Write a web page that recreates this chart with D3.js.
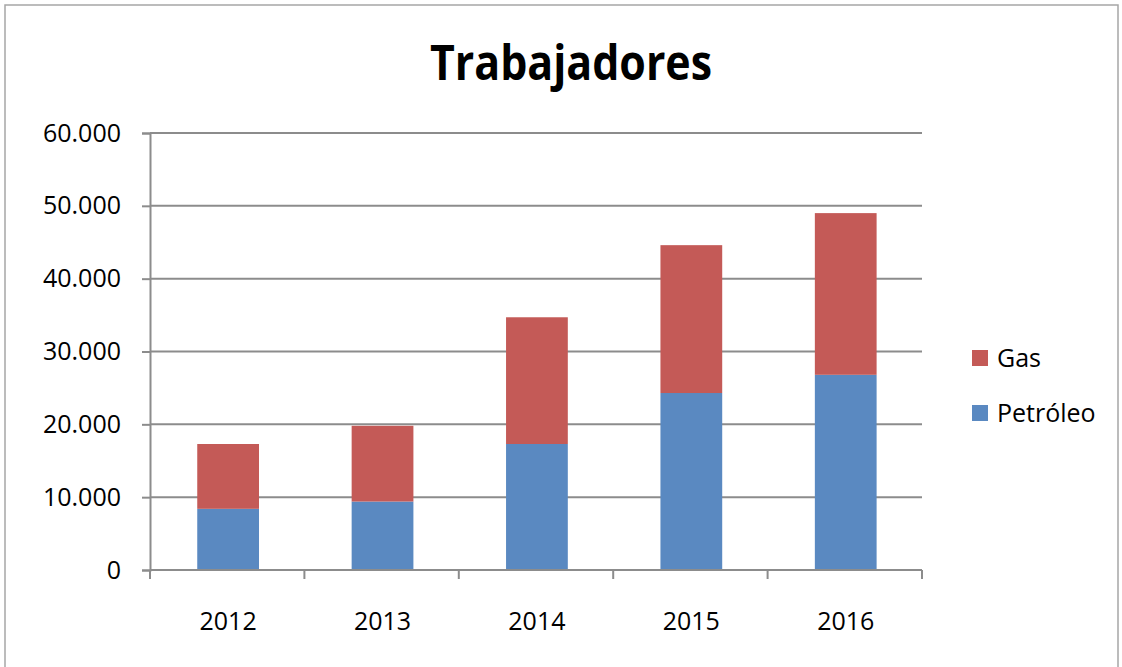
<!DOCTYPE html>
<html>
<head>
<meta charset="utf-8">
<script src="https://cdn.jsdelivr.net/npm/d3@7"></script>
<style>
  body { margin: 0; background: #fff; }
  text { font-family: "Open Sans", sans-serif; fill: #000; }
</style>
</head>
<body>
<div id="chart"></div>
<script>
// data
const years = ["2012", "2013", "2014", "2015", "2016"];
const petroleo = [8400, 9400, 17300, 24300, 26800];
const gas = [8900, 10400, 17400, 20300, 22200];
const yTicks = [0, 10000, 20000, 30000, 40000, 50000, 60000];
const seriesNames = ["Petróleo", "Gas"];
const seriesColors = ["#5A89C1", "#C45A57"];

const W = 1122, H = 667;
const margin = { top: 133, right: 200, bottom: 97, left: 150 };
const width = W - margin.left - margin.right;
const height = H - margin.top - margin.bottom;

const svg = d3.select("#chart").append("svg")
    .attr("width", W)
    .attr("height", H);

// outer frame
svg.append("rect")
    .attr("x", 5).attr("y", 5)
    .attr("width", 1113).attr("height", 680)
    .attr("fill", "none")
    .attr("stroke", "#a6a6a6")
    .attr("stroke-width", 1.5);

svg.append("text")
    .attr("x", 571).attr("y", 80)
    .attr("text-anchor", "middle")
    .attr("font-size", 48)
    .attr("font-weight", 700)
    .attr("textLength", 282)
    .attr("lengthAdjust", "spacingAndGlyphs")
    .text("Trabajadores");

const g = svg.append("g")
    .attr("transform", `translate(${margin.left},${margin.top})`);

const x = d3.scaleBand()
    .domain(years)
    .range([0, width])
    .paddingInner(0.6)
    .paddingOuter(0.3)
    .align(0.51);

const y = d3.scaleLinear()
    .domain([0, 60000])
    .range([height, 0]);

// gridlines
g.append("g")
    .selectAll("line")
    .data(yTicks)
    .join("line")
    .attr("x1", 0).attr("x2", width)
    .attr("y1", d => y(d)).attr("y2", d => y(d))
    .attr("stroke", "#8c8c8c")
    .attr("stroke-width", 2);

// stacked bars
const rows = years.map((yr, i) => ({ year: yr, "Petróleo": petroleo[i], "Gas": gas[i] }));
const stack = d3.stack().keys(seriesNames)(rows);

g.append("g")
    .selectAll("g")
    .data(stack)
    .join("g")
    .attr("fill", (d, i) => seriesColors[i])
    .selectAll("rect")
    .data(d => d)
    .join("rect")
    .attr("x", d => x(d.data.year))
    .attr("width", x.bandwidth())
    .attr("y", d => y(d[1]))
    .attr("height", d => y(d[0]) - y(d[1]));

// y axis
const yAxis = g.append("g")
    .call(d3.axisLeft(y).tickValues(yTicks).tickSize(8).tickPadding(21)
        .tickFormat(d => d3.format(",")(d).replace(/,/g, ".")));
yAxis.select(".domain").attr("stroke", "#8c8c8c").attr("stroke-width", 2);
yAxis.selectAll(".tick line").attr("stroke", "#8c8c8c").attr("stroke-width", 2);
yAxis.selectAll(".tick text")
    .attr("font-size", 25)
    .attr("font-family", "Open Sans, sans-serif")
    .attr("fill", "#000");

// x axis with ticks on band boundaries
const xAxisG = g.append("g").attr("transform", `translate(0,${height})`);
xAxisG.append("line")
    .attr("x1", 0).attr("x2", width)
    .attr("stroke", "#8c8c8c").attr("stroke-width", 2);
const bounds = d3.range(years.length + 1).map(i => i * x.step());
xAxisG.selectAll("line.tk")
    .data(bounds)
    .join("line")
    .attr("class", "tk")
    .attr("x1", d => d).attr("x2", d => d)
    .attr("y1", 0).attr("y2", 9)
    .attr("stroke", "#8c8c8c").attr("stroke-width", 2);
xAxisG.selectAll("text")
    .data(years)
    .join("text")
    .attr("x", d => x(d) + x.bandwidth() / 2)
    .attr("y", 60)
    .attr("text-anchor", "middle")
    .attr("font-size", 25)
    .text(d => d);

// legend (Gas first)
const legend = svg.append("g");
const legendItems = [
    { name: "Gas", color: seriesColors[1], y: 358 },
    { name: "Petróleo", color: seriesColors[0], y: 413 }
];
legend.selectAll("rect")
    .data(legendItems)
    .join("rect")
    .attr("x", 972).attr("y", d => d.y - 8)
    .attr("width", 16).attr("height", 16)
    .attr("fill", d => d.color);
legend.selectAll("text")
    .data(legendItems)
    .join("text")
    .attr("x", 997).attr("y", d => d.y + 9)
    .attr("font-size", 25)
    .text(d => d.name);
</script>
</body>
</html>
